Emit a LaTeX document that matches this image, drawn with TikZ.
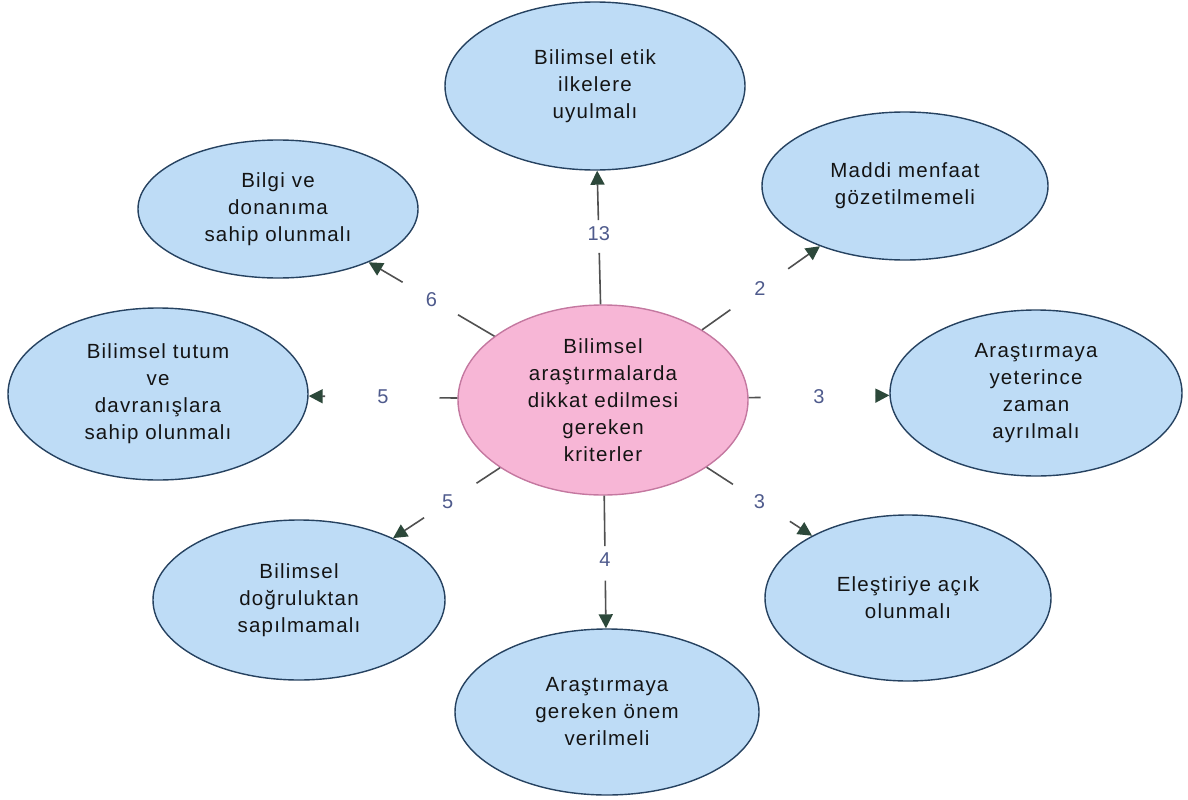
\documentclass[tikz,border=0pt]{standalone}
\usepackage{fontspec}
\setmainfont{Liberation Sans}
\newfontfamily\ellfont[LetterSpace=6]{Liberation Sans}
\usetikzlibrary{shapes.geometric,arrows.meta}
\definecolor{bfill}{RGB}{190,220,246}
\definecolor{bdraw}{RGB}{38,66,96}
\definecolor{pfill}{RGB}{247,182,214}
\definecolor{pdraw}{RGB}{196,120,160}
\definecolor{lblc}{RGB}{78,90,140}
\definecolor{linec}{RGB}{80,80,80}
\definecolor{tipc}{RGB}{44,72,58}
\begin{document}
\begin{tikzpicture}[x=1pt,y=-1pt,
  ell/.style={ellipse,draw=bdraw,fill=bfill,line width=1.4pt,inner sep=0pt,align=center,
    font=\ellfont\fontsize{20.5}{27}\selectfont,text=black!92},
  ctr/.style={ell,draw=pdraw,fill=pfill},
  lbl/.style={text=lblc,font=\fontsize{20}{22}\selectfont,inner sep=1pt},
  stub/.style={draw=linec,line width=1.6pt},
  arr/.style={draw=linec,line width=1.6pt,-{Triangle[length=14pt,width=14pt,fill=tipc,color=tipc]}}]
\useasboundingbox (0,0) rectangle (1188,800);
\node[ctr,minimum width=290,minimum height=190] (c) at (603,400) {Bilimsel\\araştırmalarda\\dikkat edilmesi\\gereken\\kriterler};
\node[ell,minimum width=300,minimum height=168] (t) at (595,86) {Bilimsel etik\\ilkelere\\uyulmalı};
\node[ell,minimum width=280,minimum height=138] (tl) at (278,209) {Bilgi ve\\donanıma\\sahip olunmalı};
\node[ell,minimum width=286,minimum height=148] (tr) at (905,186) {Maddi menfaat\\gözetilmemeli};
\node[ell,minimum width=300,minimum height=172] (l) at (158,394) {Bilimsel tutum\\ve\\davranışlara\\sahip olunmalı};
\node[ell,minimum width=292,minimum height=166] (r) at (1036,393) {Araştırmaya\\yeterince\\zaman\\ayrılmalı};
\node[ell,minimum width=292,minimum height=160] (bl) at (299,600) {Bilimsel\\doğruluktan\\sapılmamalı};
\node[ell,minimum width=286,minimum height=166] (br) at (908,598) {Eleştiriye açık\\olunmalı};
\node[ell,minimum width=304,minimum height=166] (b) at (607,712) {Araştırmaya\\gereken önem\\verilmeli};
% connectors
\path (c) -- coordinate[pos=0.385] (a1) node[lbl,pos=0.53] (n1) {13} coordinate[pos=0.63] (b1) (t);
\draw[stub] (c) -- (a1); \draw[arr] (b1) -- (t);
\path (c) -- coordinate[pos=0.29] (a2) node[lbl,pos=0.5] (n2) {6} coordinate[pos=0.73] (b2) (tl);
\draw[stub] (c) -- (a2); \draw[arr] (b2) -- (tl);
\path (c) -- coordinate[pos=0.24] (a3) node[lbl,pos=0.49] (n3) {2} coordinate[pos=0.73] (b3) (tr);
\draw[stub] (c) -- (a3); \draw[arr] (b3) -- (tr);
\path (c) -- coordinate[pos=0.12] (a4) node[lbl,pos=0.5] (n4) {5} coordinate[pos=0.89] (b4) (l);
\draw[stub] (c) -- (a4); \draw[arr] (b4) -- (l);
\path (c) -- coordinate[pos=0.085] (a5) node[lbl,pos=0.5] (n5) {3} coordinate[pos=0.905] (b5) (r);
\draw[stub] (c) -- (a5); \draw[arr] (b5) -- (r);
\path (c) -- coordinate[pos=0.22] (a6) node[lbl,pos=0.49] (n6) {5} coordinate[pos=0.71] (b6) (bl);
\draw[stub] (c) -- (a6); \draw[arr] (b6) -- (bl);
\path (c) -- coordinate[pos=0.25] (a7) node[lbl,pos=0.5] (n7) {3} coordinate[pos=0.79] (b7) (br);
\draw[stub] (c) -- (a7); \draw[arr] (b7) -- (br);
\path (c) -- coordinate[pos=0.38] (a8) node[lbl,pos=0.48] (n8) {4} coordinate[pos=0.64] (b8) (b);
\draw[stub] (c) -- (a8); \draw[arr] (b8) -- (b);
\end{tikzpicture}
\end{document}
